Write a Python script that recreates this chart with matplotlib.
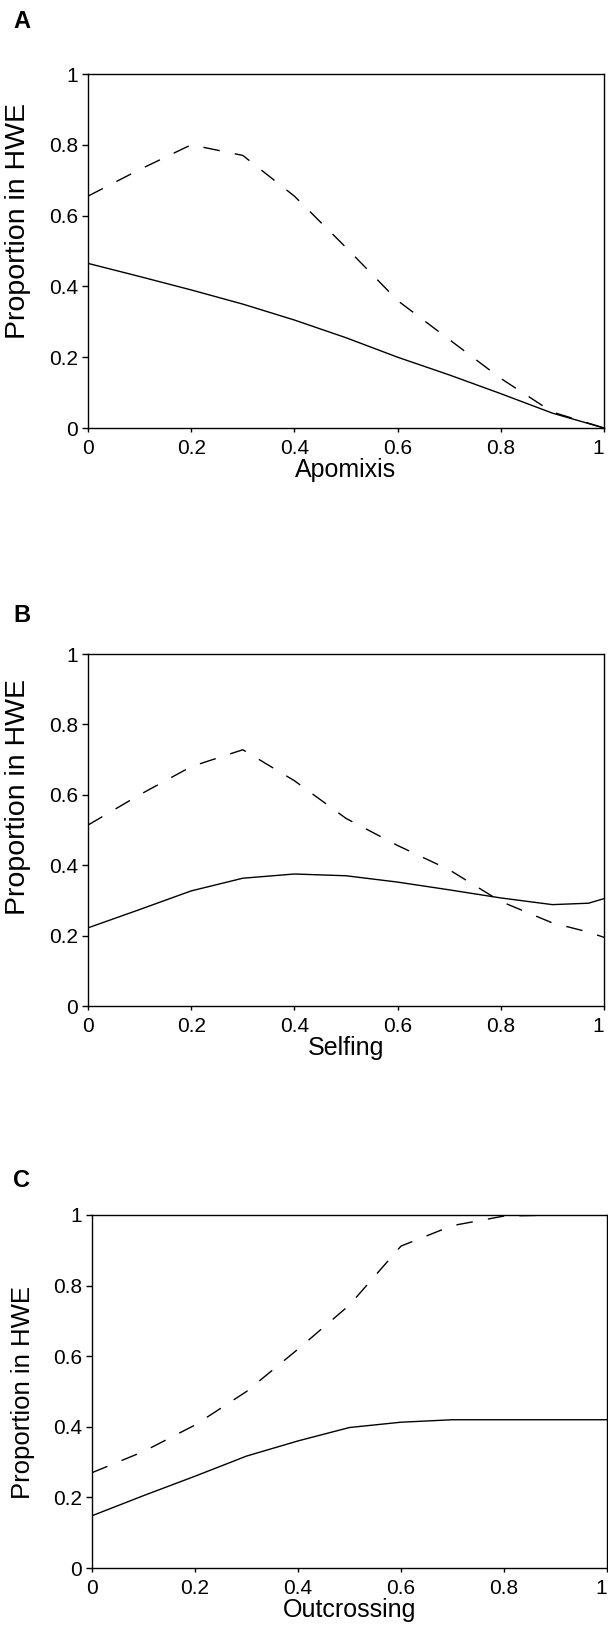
import numpy as np
import matplotlib
matplotlib.use("Agg")
import matplotlib.pyplot as plt

plt.rcParams['font.family'] = ['Liberation Sans', 'DejaVu Sans']
plt.rcParams['lines.scale_dashes'] = False

# Panel A - apomixis
x_apo = [0.0, 0.1, 0.2, 0.3, 0.4, 0.5, 0.6, 0.7, 0.8, 0.9, 1.0]
apo_dashed = [0.655, 0.73, 0.80, 0.77, 0.655, 0.51, 0.36, 0.25, 0.14, 0.045, 0.0]
apo_solid = [0.465, 0.428, 0.39, 0.35, 0.305, 0.255, 0.20, 0.15, 0.097, 0.042, 0.0]

# Panel B - selfing
x_self = [0.0, 0.1, 0.2, 0.3, 0.4, 0.5, 0.6, 0.7, 0.8, 0.9, 0.97, 1.0]
self_dashed = [0.514, 0.60, 0.68, 0.728, 0.64, 0.533, 0.456, 0.387, 0.297, 0.236, 0.21, 0.195]
self_solid = [0.222, 0.274, 0.327, 0.363, 0.375, 0.37, 0.352, 0.33, 0.307, 0.288, 0.292, 0.305]

# Panel C - outcrossing
x_out = [0.0, 0.1, 0.2, 0.3, 0.4, 0.5, 0.6, 0.7, 0.8, 0.9, 1.0]
out_dashed = [0.27, 0.33, 0.405, 0.50, 0.62, 0.745, 0.912, 0.97, 0.997, 1.0, 1.0]
out_solid = [0.148, 0.205, 0.26, 0.317, 0.36, 0.398, 0.413, 0.42, 0.42, 0.42, 0.42]

ticks = [0, 0.2, 0.4, 0.6, 0.8, 1]
tick_labels = ['0', '0.2', '0.4', '0.6', '0.8', '1']

panels = [
    ('A', 'Apomixis', x_apo, apo_dashed, apo_solid),
    ('B', 'Selfing', x_self, self_dashed, self_solid),
    ('C', 'Outcrossing', x_out, out_dashed, out_solid),
]

W, H = 608, 1627
fig = plt.figure(figsize=(W / 100, H / 100), dpi=100)

# axes boxes in pixels: left, right, top, bottom
boxes = [(88, 604, 74, 428), (88, 604, 654, 1006), (92, 607, 1215, 1568)]
letter_base = [28, 622, 1187]
ylab_y = [0.584, 0.594, 0.496]
ylab_size = [20.5, 20.5, 18.5]

for i, (letter, xlab, xs, dashed, solid) in enumerate(panels):
    l, r, t, b = boxes[i]
    ax = fig.add_axes([l / W, 1 - b / H, (r - l) / W, (b - t) / H])

    ax.plot(xs, dashed, color='black', lw=1.0, dashes=(12, 11))
    ax.plot(xs, solid, color='black', lw=1.0)

    ax.set_xlim(0, 1)
    ax.set_ylim(0, 1)
    ax.set_xticks(ticks)
    ax.set_xticklabels(tick_labels)
    ax.set_yticks(ticks)
    ax.set_yticklabels(tick_labels)
    ax.tick_params(axis='both', direction='out', length=4, width=1,
                   labelsize=15, color='black')
    ax.tick_params(axis='y', pad=3)
    ax.tick_params(axis='x', pad=5, length=3)
    # last x label sits right at the figure edge, keep it inside
    ax.get_xticklabels()[-1].set_horizontalalignment('right')
    for s in ax.spines.values():
        s.set_linewidth(1.0)

    ax.set_xlabel(xlab, fontsize=18, labelpad=0)
    ax.set_ylabel('Proportion in HWE', fontsize=ylab_size[i])
    ax.yaxis.set_label_coords(-0.11, ylab_y[i])

    fig.text(13 / W, 1 - letter_base[i] / H, letter, fontsize=17,
             fontweight='bold', va='baseline', ha='left')

fig.savefig('out.png', dpi=100)
